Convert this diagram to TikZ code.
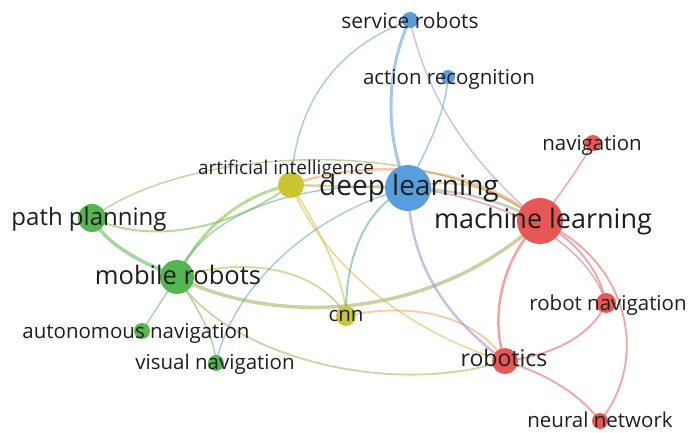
\documentclass[tikz,border=0pt]{standalone}
\usepackage{fontspec}
\setmainfont{Open Sans}
\usetikzlibrary{backgrounds}
\definecolor{cblue}{RGB}{88,158,220}
\definecolor{cred}{RGB}{232,86,86}
\definecolor{cgreen}{RGB}{84,182,80}
\definecolor{cyellow}{RGB}{200,198,50}
\definecolor{corange}{RGB}{236,160,90}
\definecolor{cpurple}{RGB}{160,140,200}
\definecolor{ctxt}{RGB}{30,30,30}
\tikzset{
  kw/.style={circle,inner sep=0pt,minimum size=#1,draw=none},
  lbl/.style={anchor=mid,inner sep=0pt,yshift=-4pt,text=ctxt,font=\fontsize{#1}{#1}\selectfont},
  edge/.style={line width=#1,opacity=0.55,line cap=round},
}
\begin{document}
\begin{tikzpicture}[x=1pt,y=-1pt]
\useasboundingbox (0,0) rectangle (691,433);
% nodes
\node[kw=16,fill=cblue] (sr) at (410,20) {};
\node[kw=14,fill=cblue] (ar) at (448,77) {};
\node[kw=16,fill=cred] (nav) at (593,143) {};
\node[kw=26,fill=cyellow] (ai) at (291,185) {};
\node[kw=46,fill=cblue] (dl) at (408,188) {};
\node[kw=46,fill=cred] (ml) at (540,221) {};
\node[kw=28,fill=cgreen] (pp) at (92,218) {};
\node[kw=34,fill=cgreen] (mr) at (177,277) {};
\node[kw=20,fill=cyellow] (cnn) at (346,316) {};
\node[kw=16,fill=cgreen] (an) at (142,331) {};
\node[kw=16,fill=cgreen] (vn) at (216,363) {};
\node[kw=26,fill=cred] (rob) at (505,361) {};
\node[kw=20,fill=cred] (rn) at (606,303) {};
\node[kw=16,fill=cred] (nn) at (600,421) {};
% edges
\begin{scope}[on background layer]
\draw[edge=3,cblue] (sr.center) .. controls (385,70) and (385,140) .. (dl.center);
\draw[edge=1.4,cpurple] (sr.center) .. controls (430,110) and (480,170) .. (ml.center);
\draw[edge=1.4,cgreen!60!cblue] (sr.center) .. controls (330,50) and (295,110) .. (ai.center);
\draw[edge=1.5,cblue] (ar.center) .. controls (445,120) and (420,160) .. (dl.center);
\draw[edge=1.4,cred] (nav.center) .. controls (575,175) and (555,200) .. (ml.center);
\draw[edge=2.5,cblue!50!corange] (dl.center) .. controls (460,190) and (500,200) .. (ml.center);
\draw[edge=1.8,corange] (dl.center) .. controls (460,175) and (500,190) .. (ml.center);
\draw[edge=2.5,corange] (ai.center) .. controls (360,160) and (470,160) .. (ml.center);
\draw[edge=1.5,cgreen!50!corange] (pp.center) .. controls (180,150) and (420,130) .. (ml.center);
\draw[edge=2,cgreen!70!cyellow] (pp.center) .. controls (150,245) and (230,230) .. (ai.center);
\draw[edge=3.5,cgreen] (pp.center) .. controls (110,250) and (150,265) .. (mr.center);
\draw[edge=3,cgreen!60!cyellow] (mr.center) .. controls (200,230) and (240,195) .. (ai.center);
\draw[edge=1.4,cgreen!50!cblue] (mr.center) .. controls (210,200) and (330,180) .. (dl.center);
\draw[edge=1.8,cyellow!70!cgreen] (mr.center) .. controls (250,255) and (320,270) .. (cnn.center);
\draw[edge=3.5,cgreen!50!corange] (mr.center) .. controls (260,320) and (420,330) .. (ml.center);
\draw[edge=1.4,cgreen] (mr.center) -- (an.center);
\draw[edge=1.4,cgreen] (mr.center) .. controls (200,310) and (215,340) .. (vn.center);
\draw[edge=1.8,cgreen!40!corange] (mr.center) .. controls (220,350) and (380,400) .. (rob.center);
\draw[edge=1.4,cblue!70!cgreen] (vn.center) .. controls (235,280) and (320,210) .. (dl.center);
\draw[edge=1.8,cyellow] (ai.center) .. controls (320,230) and (345,280) .. (cnn.center);
\draw[edge=1.5,cyellow!50!corange] (ai.center) .. controls (330,280) and (430,340) .. (rob.center);
\draw[edge=2.5,cyellow!70!cblue] (ai.center) -- (dl.center);
\draw[edge=2,cgreen!50!cblue] (cnn.center) .. controls (345,250) and (370,205) .. (dl.center);
\draw[edge=1.8,corange] (cnn.center) .. controls (420,300) and (480,320) .. (rob.center);
\draw[edge=2.5,cpurple] (dl.center) .. controls (410,270) and (450,320) .. (rob.center);
\draw[edge=2.5,cred] (ml.center) .. controls (500,260) and (490,320) .. (rob.center);
\draw[edge=1.8,cred] (ml.center) .. controls (575,240) and (600,270) .. (rn.center);
\draw[edge=1.5,cred!70!cblue] (dl.center) .. controls (520,200) and (590,250) .. (rn.center);
\draw[edge=1.8,cred] (ml.center) .. controls (630,260) and (650,360) .. (nn.center);
\draw[edge=1.8,cred] (rob.center) .. controls (560,355) and (595,330) .. (rn.center);
\draw[edge=1.8,cred] (rob.center) .. controls (550,375) and (580,395) .. (nn.center);
\end{scope}
% labels
\node[lbl=21] (lsr) at (410,22) {service robots};
\node[lbl=20.5] (lar) at (449,78) {action recognition};
\node[lbl=20.5] (lnav) at (592,144) {navigation};
\node[lbl=19] (lai) at (286,168) {artificial intelligence};
\node[lbl=28] (ldl) at (409,189) {deep learning};
\node[lbl=27] (lml) at (543,222) {machine learning};
\node[lbl=24] (lpp) at (89,219) {path planning};
\node[lbl=25.5] (lmr) at (178,278) {mobile robots};
\node[lbl=20.5] (lcnn) at (346,315) {cnn};
\node[lbl=20.5] (lan) at (136,332) {autonomous navigation};
\node[lbl=20.5] (lvn) at (215,363) {visual navigation};
\node[lbl=23] (lrob) at (504,360) {robotics};
\node[lbl=20.5] (lrn) at (608,304) {robot navigation};
\node[lbl=20.5] (lnn) at (600,421) {neural network};
\end{tikzpicture}
\end{document}
